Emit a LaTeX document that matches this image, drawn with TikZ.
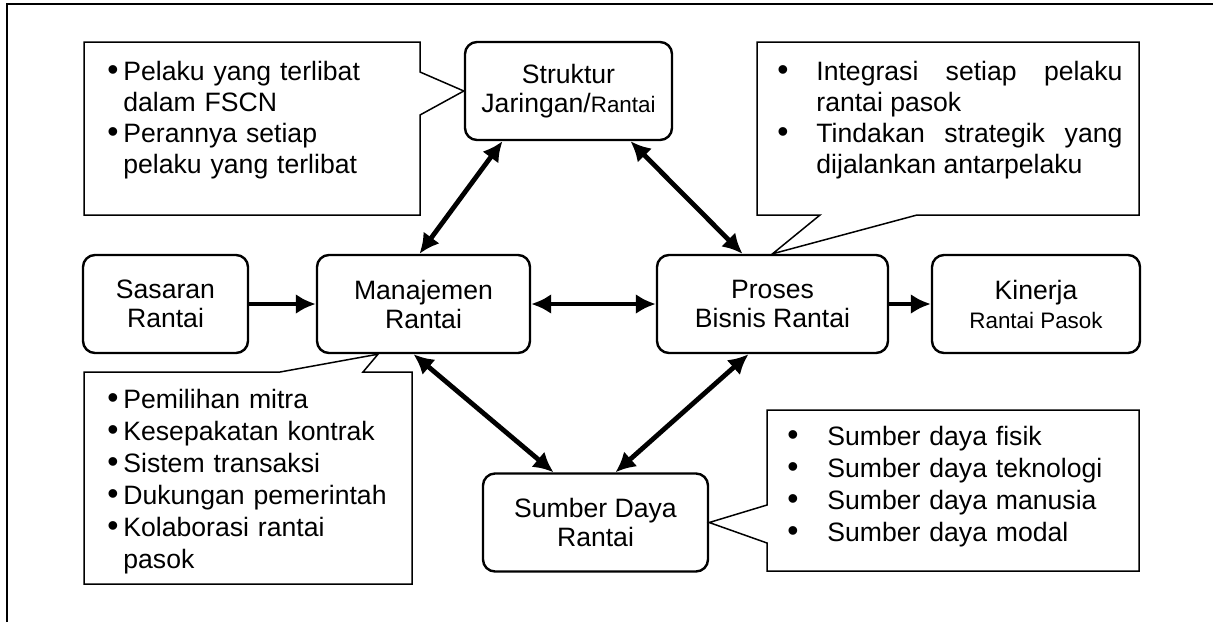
\documentclass[tikz,border=0pt]{standalone}
\usepackage{fontspec}
\setmainfont{Liberation Sans}
\usetikzlibrary{arrows.meta}

\hbadness=10000
\newcommand{\bitem}[2]{\hangindent=#1\hangafter=1\makebox[#1][l]{\scalebox{1.2}{\textbullet}}#2\par}
\newcommand{\smalltxt}[1]{{\fontsize{11.2}{14.5}\selectfont #1}}

\begin{document}
\begin{tikzpicture}[
  x=0.5pt, y=-0.5pt,
  box/.style={draw, line width=1.2pt, rounded corners=6pt, align=center, inner sep=0pt,
    minimum height=49pt, font=\fontsize{13.3}{14.5}\selectfont},
  callout/.style={draw, line width=0.75pt, line join=miter},
  note/.style={anchor=base west, inner sep=0pt, align=left, font=\fontsize{13.3}{15.5}\selectfont},
  link/.style={{Latex[length=10pt,width=10pt]}-{Latex[length=10pt,width=10pt]}, line width=2.4pt},
  flow/.style={-{Latex[length=10pt,width=10pt]}, line width=2.4pt}
]
\useasboundingbox (0,0) rectangle (1213,622);
\draw[line width=1.2pt] (7,622) -- (7,4) -- (1213,4);

\node[box, minimum width=82.5pt] (sas) at (165.5,304) {Sasaran\\Rantai};
\node[box, minimum width=106.5pt] (man) at (423.5,304) {Manajemen\\Rantai};
\node[box, minimum width=115.5pt] (pro) at (772.5,304) {Proses\\Bisnis Rantai};
\node[box, minimum width=104pt] (kin) at (1036,304) {Kinerja\\\smalltxt{Rantai Pasok}};
\node[box, minimum width=103.5pt] (str) at (568.5,91) {Struktur\\Jaringan/\smalltxt{Rantai}};
\node[box, minimum width=112.5pt] (sum) at (595.5,522.5) {Sumber Daya\\Rantai};

% callouts
\coordinate (mtip) at ([xshift=-22.75pt]man.south);
\draw[callout] (84,42) -- (420,42) -- (420,72) -- (str.west) -- (420,115) -- (420,215) -- (84,215) -- cycle;
\draw[callout] (757,42) -- (1139,42) -- (1139,215) -- (917,215) -- (pro.north) -- (820,215) -- (757,215) -- cycle;
\draw[callout] (84,372) -- (280,372) -- (mtip) -- (363,372) -- (412,372) -- (412,584) -- (84,584) -- cycle;
\draw[callout] (767,410) -- (1139,410) -- (1139,571) -- (767,571) -- (767,543) -- (sum.east) -- (767,505) -- cycle;

\node[note, text width=151pt] (strnote) at (107,80)
  {\bitem{8pt}{Pelaku yang terlibat\newline dalam FSCN}\bitem{8pt}{Perannya setiap\newline pelaku yang terlibat}};
\node[note, text width=172.5pt, align=justify] (pronote) at (777,80)
  {\bitem{19.5pt}{Integrasi setiap pelaku\linebreak rantai pasok}\bitem{19.5pt}{Tindakan strategik yang\linebreak dijalankan antarpelaku}};
\node[note, text width=152pt, font=\fontsize{13.3}{16}\selectfont] (mannote) at (107,408)
  {\bitem{8pt}{Pemilihan mitra}\bitem{8pt}{Kesepakatan kontrak}\bitem{8pt}{Sistem transaksi}%
   \bitem{8pt}{Dukungan pemerintah}\bitem{8pt}{Kolaborasi rantai\newline pasok}};
\node[note, text width=170pt, font=\fontsize{13.3}{16}\selectfont] (sumnote) at (787,445)
  {\bitem{20pt}{Sumber daya fisik}\bitem{20pt}{Sumber daya teknologi}%
   \bitem{20pt}{Sumber daya manusia}\bitem{20pt}{Sumber daya modal}};

% arrows
\draw[link] ([xshift=-2pt]man.north) -- ([xshift=-33pt]str.south);
\draw[link] ([xshift=31pt]str.south) -- ([xshift=-15pt]pro.north);
\draw[link] (man.east) -- (pro.west);
\draw[link] ([xshift=-5pt]man.south) -- ([xshift=-21pt]sum.north);
\draw[link] ([xshift=-12pt]pro.south) -- ([xshift=10pt]sum.north);
\draw[flow] (sas.east) -- (man.west);
\draw[flow] (pro.east) -- (kin.west);
\end{tikzpicture}
\end{document}
